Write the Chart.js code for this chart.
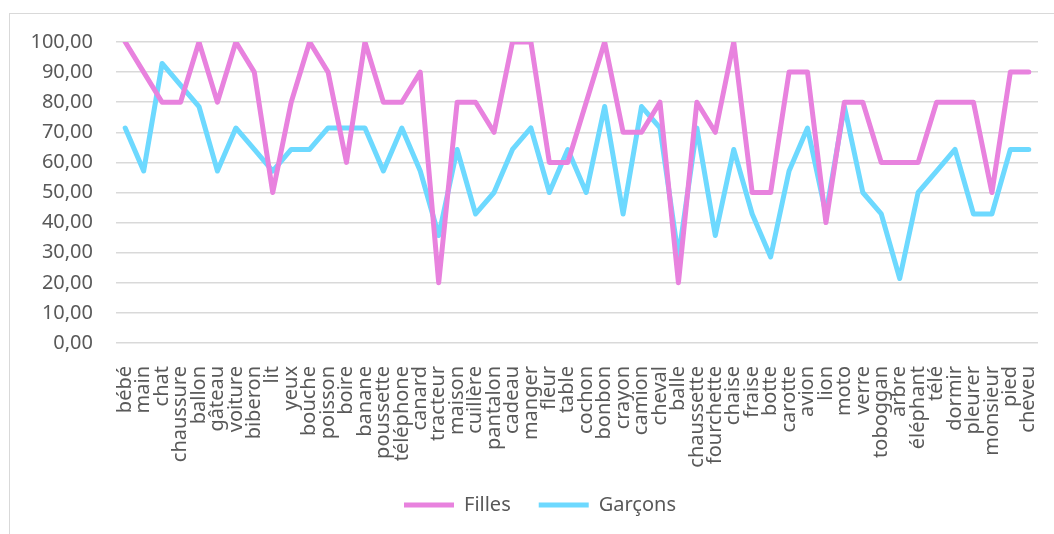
<!DOCTYPE html>
<html>
<head>
<meta charset="utf-8">
<script src="https://cdn.jsdelivr.net/npm/chart.js@4/dist/chart.umd.min.js"></script>
<style>
  html, body { margin: 0; padding: 0; background: #fff; }
  #wrap { position: absolute; left: 0; top: 0; width: 1054px; height: 534px; }
</style>
</head>
<body>
<div id="wrap"><canvas id="chart"></canvas></div>
<script>
const words = ['bébé', 'main', 'chat', 'chaussure', 'ballon', 'gâteau', 'voiture', 'biberon', 'lit', 'yeux',
  'bouche', 'poisson', 'boire', 'banane', 'poussette', 'téléphone', 'canard', 'tracteur', 'maison', 'cuillère',
  'pantalon', 'cadeau', 'manger', 'fleur', 'table', 'cochon', 'bonbon', 'crayon', 'camion', 'cheval',
  'balle', 'chaussette', 'fourchette', 'chaise', 'fraise', 'botte', 'carotte', 'avion', 'lion', 'moto',
  'verre', 'toboggan', 'arbre', 'éléphant', 'télé', 'dormir', 'pleurer', 'monsieur', 'pied', 'cheveu']

const filles = [100, 90, 80, 80, 100, 80, 100, 90, 50, 80,
  100, 90, 60, 100, 80, 80, 90, 20, 80, 80,
  70, 100, 100, 60, 60, 80, 100, 70, 70, 80,
  20, 80, 70, 100, 50, 50, 90, 90, 40, 80,
  80, 60, 60, 60, 80, 80, 80, 50, 90, 90]

const garcons = [71.43, 57.14, 92.86, 85.71, 78.57, 57.14, 71.43, 64.29, 57.14, 64.29,
  64.29, 71.43, 71.43, 71.43, 57.14, 71.43, 57.14, 35.71, 64.29, 42.86,
  50, 64.29, 71.43, 50, 64.29, 50, 78.57, 42.86, 78.57, 71.43,
  28.57, 71.43, 35.71, 64.29, 42.86, 28.57, 57.14, 71.43, 42.86, 78.57,
  50, 42.86, 21.43, 50, 57.14, 64.29, 42.86, 42.86, 64.29, 64.29]

const seriesNames = ['Filles', 'Garçons']
const yTicks = [0, 10, 20, 30, 40, 50, 60, 70, 80, 90, 100]

const textColor = '#595959', gridColor = '#d9d9d9'
const font = { family: '"Noto Sans", "Open Sans", sans-serif', size: 20 }

const lineSet = (label, data, color) => ({
  label: label,
  data: data,
  borderColor: color,
  backgroundColor: color,
  borderWidth: 5,
  borderJoinStyle: 'round',
  borderCapStyle: 'round',
  pointRadius: 0,
  pointHoverRadius: 0,
  tension: 0,
  fill: false
})

const framePlugin = {
  id: 'frame',
  // legend sits a bit right of centre and higher than the layout puts it
  afterLayout: (chart) => {
    const legend = chart.legend
    legend.left += 21
    legend.right += 21
    legend.top -= 8
    legend.bottom -= 8
  },
  beforeDraw: (chart) => {
    const ctx = chart.ctx
    ctx.save()
    ctx.fillStyle = '#ffffff'
    ctx.fillRect(0, 0, chart.width, chart.height)
    ctx.strokeStyle = gridColor
    ctx.lineWidth = 1
    ctx.strokeRect(9.5, 13.5, chart.width + 10, chart.height + 10)
    ctx.restore()
  }
}

new Chart(document.getElementById('chart'), {
  type: 'line',
  data: {
    labels: words,
    datasets: [
      lineSet(seriesNames[0], filles, '#e882de'),
      lineSet(seriesNames[1], garcons, '#6dd9ff')
    ]
  },
  options: {
    responsive: true,
    maintainAspectRatio: false,
    animation: false,
    events: [],
    layout: { padding: { left: 0, right: 16, top: 42, bottom: 1 } },
    scales: {
      x: {
        offset: true,
        grid: { display: false },
        border: { display: false },
        ticks: {
          color: textColor,
          font: font,
          autoSkip: false,
          minRotation: 90,
          maxRotation: 90,
          padding: 15
        },
        afterFit: (scale) => {
          scale.height = 132
          scale.paddingLeft = 0
          scale.paddingRight = 0
        }
      },
      y: {
        min: 0,
        max: 100,
        afterBuildTicks: (scale) => { scale.ticks = yTicks.map(v => ({ value: v })) },
        grid: { color: gridColor, lineWidth: 1.5, drawTicks: false },
        border: { display: false },
        ticks: {
          color: textColor,
          font: font,
          padding: 23,
          callback: (v) => v.toFixed(2).replace('.', ',')
        },
        afterFit: (scale) => { scale.width = 116 }
      }
    },
    plugins: {
      legend: {
        position: 'bottom',
        labels: {
          color: textColor,
          font: font,
          usePointStyle: true,
          pointStyle: 'line',
          pointStyleWidth: 50,
          padding: 28
        }
      },
      tooltip: { enabled: false }
    }
  },
  plugins: [framePlugin]
})
</script>
</body>
</html>
